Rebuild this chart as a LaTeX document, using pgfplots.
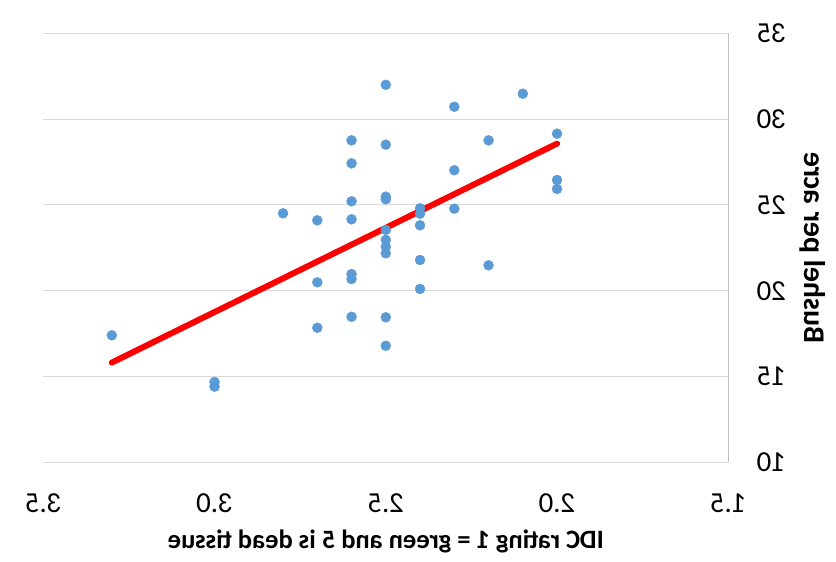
\documentclass[border=0pt]{standalone}
\usepackage{pgfplots}
\pgfplotsset{compat=1.18}
\usepackage{fontspec}
\setmainfont{Carlito}
\usepackage{graphicx}
\definecolor{dotblue}{HTML}{5B9BD5}
\definecolor{gridgray}{HTML}{D9D9D9}
\definecolor{axgray}{HTML}{BFBFBF}
\definecolor{trendred}{HTML}{FF0000}
\begin{document}
\begin{tikzpicture}
\path[use as bounding box] (0,0) rectangle (836bp,562bp);
\begin{axis}[
  at={(43.3bp,99.7bp)}, anchor=south west,
  scale only axis, width=685bp, height=429bp,
  xmin=1.5, xmax=3.5, x dir=reverse,
  ymin=10, ymax=35,
  xtick={1.5,2.0,2.5,3.0,3.5},
  ytick={10,15,20,25,30,35},
  axis x line*=bottom, axis y line*=right,
  axis line style={draw=axgray, line width=0.8bp},
  x axis line style={draw=gridgray},
  major tick length=0pt,
  ymajorgrids, grid style={draw=gridgray, line width=0.9bp},
  /pgf/number format/assume math mode=true,
  xticklabel={\reflectbox{\pgfmathprintnumber[fixed,fixed zerofill,precision=1]{\tick}}},
  yticklabel={\reflectbox{\pgfmathprintnumber[fixed,precision=0]{\tick}}},
  tick label style={font=\fontsize{29bp}{31bp}\selectfont, inner sep=0pt},
  xticklabel style={anchor=base, yshift=-49.7bp},
  yticklabel style={anchor=west, xshift=28.2bp},
  xlabel={\reflectbox{IDC rating 1 = green and 5 is dead tissue}},
  ylabel={\reflectbox{Bushel per acre}},
  xlabel style={font=\bfseries\fontsize{26.5bp}{28bp}\selectfont, at={(axis description cs:0.5,-0.185)}, anchor=center},
  ylabel style={font=\bfseries\fontsize{30bp}{32bp}\selectfont, at={(axis description cs:1.123,0.5)}, anchor=center, rotate=180},
  clip=false,
]
\addplot[only marks, mark=*, mark size=5bp, color=dotblue] coordinates {
(3.3,17.40)
(3.0,14.68) (3.0,14.41)
(2.8,24.51)
(2.7,24.10) (2.7,20.49) (2.7,17.84)
(2.6,28.76) (2.6,27.42) (2.6,25.21) (2.6,24.16) (2.6,20.97) (2.6,20.68) (2.6,18.48)
(2.5,32.00) (2.5,28.51) (2.5,25.48) (2.5,25.33) (2.5,23.54) (2.5,22.96) (2.5,22.56) (2.5,22.18) (2.5,18.45) (2.5,16.79)
(2.4,24.80) (2.4,24.49) (2.4,23.81) (2.4,21.79) (2.4,20.10)
(2.3,30.72) (2.3,27.02) (2.3,24.78)
(2.2,28.76) (2.2,21.48)
(2.1,31.48)
(2.0,29.15) (2.0,26.45) (2.0,25.93)
};
\addplot[trendred, line width=6bp, line cap=round] coordinates {(3.3,15.81) (2.0,28.57)};
\end{axis}
\end{tikzpicture}
\end{document}
